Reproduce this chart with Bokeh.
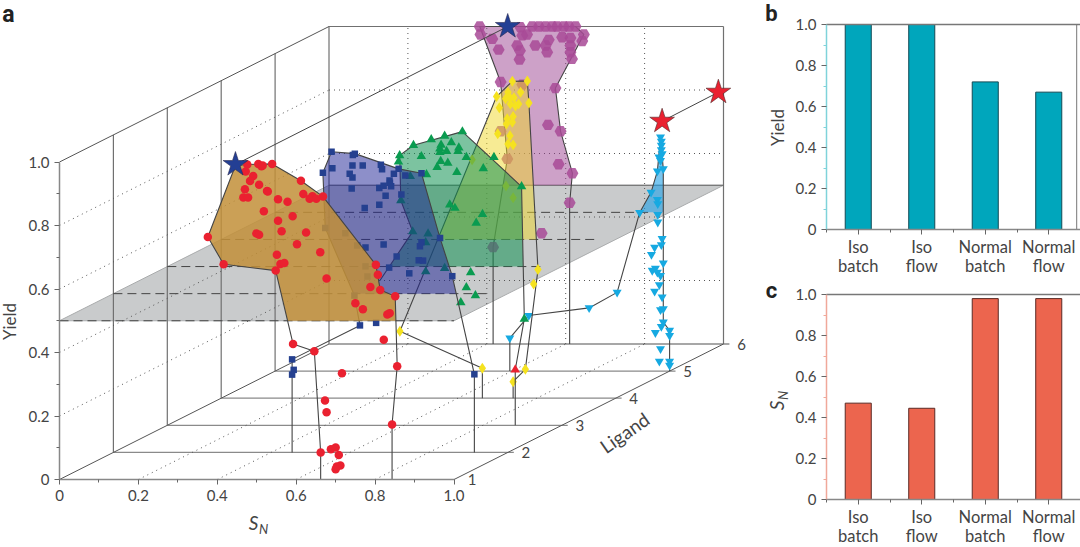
from bokeh.core.properties import value
from bokeh.embed import file_html
from bokeh.layouts import column, row
from bokeh.models import FixedTicker, Label, Range1d
from bokeh.plotting import figure
from bokeh.resources import INLINE
import math

# panel a, one pair of arrays per ligand: S_N and yield
red_sn = [.476,.504,.512,.515,.539,.472,.491,.483,.506,.470,.526,.528,.466,.478,.554,.578,.612,.618,.641,.634,.651,.668,.518,.591,.554,.499,.506,.563,.625,.376,.602,.661,.551,.416,.560,.570,.548,.677,.802,.807,.788,.813,.851,.750,.769,.831,.837,.592,.646,.822,.856,.716,.673,.677,.843,.662,.688,.700,.708,.712,.703,.700]
red_yield = [.992,.994,.987,.989,.994,.970,.956,.940,.928,.914,.909,.907,.888,.888,.883,.875,.941,.899,.892,.884,.884,.891,.845,.829,.815,.775,.771,.782,.778,.764,.741,.716,.708,.678,.679,.682,.658,.633,.676,.645,.606,.597,.577,.555,.536,.520,.524,.427,.404,.440,.357,.335,.249,.212,.173,.085,.095,.101,.077,.044,.041,.032]
red_hull_sn = [.662,.662,.646,.592,.548,.416,.376,.446,.476,.539,.612,.668,.802,.813,.851,.856,.843,.843]
red_hull_yield = [0,.085,.404,.427,.658,.678,.764,.989,.992,.994,.941,.891,.676,.597,.577,.357,.173,0]

blue_sn = [.553,.607,.612,.555,.606,.632,.531,.599,.606,.678,.681,.711,.723,.740,.781,.604,.674,.685,.700,.701,.704,.730,.690,.674,.637,.639,.685,.781,.777,.828,.718,.774,.785,.699,.750,.859,.537,.588,.618,.639,.644,.611,.625,.666,.453,.457,.453,.915]
blue_yield = [.947,.937,.941,.895,.904,.904,.881,.878,.866,.906,.892,.878,.893,.872,.879,.831,.833,.840,.856,.849,.838,.812,.808,.780,.770,.645,.655,.662,.649,.675,.617,.605,.604,.582,.564,.555,.707,.690,.652,.586,.554,.494,.400,.408,.293,.260,.245,.246]
blue_hull_sn = [.453,.453,.453,.625,.611,.537,.531,.553,.612,.723,.781,.828,.859,.915,.915]
blue_hull_yield = [0,.245,.293,.400,.494,.707,.881,.947,.941,.893,.879,.675,.555,.246,0]

green_sn = [.748,.703,.669,.624,.589,.586,.644,.694,.691,.691,.720,.708,.739,.737,.693,.684,.711,.734,.758,.828,.801,.657,.616,.898,.592,.716,.729,.799,.783,.622,.661,.655,.703,.655,.769,.758,.781,.744,.905]
green_yield = [.925,.911,.900,.882,.850,.830,.847,.883,.871,.860,.891,.863,.874,.863,.832,.813,.826,.797,.844,.844,.809,.790,.784,.752,.708,.695,.684,.665,.637,.610,.603,.576,.495,.484,.481,.434,.409,.387,.335]
green_hull_sn = [.539,.622,.592,.589,.624,.748,.898,.905,.882,.882]
green_hull_yield = [.456,.610,.708,.850,.882,.925,.752,.335,.175,0]
odd_triangle_sn = [.882]
odd_triangle_yield = [.175]

yellow_sn = [.738,.776,.698,.705,.727,.759,.732,.742,.721,.754,.733,.746,.780,.740,.725,.738,.723,.701,.732,.727,.740,.636,.722,.740,.803,.792,.453,.662,.771,.740]
yellow_yield = [.998,.999,.950,.915,.964,.964,.946,.946,.943,.927,.927,.920,.930,.887,.880,.869,.864,.833,.827,.801,.798,.751,.668,.631,.405,.360,.211,.094,.091,.052]
yellow_hull_sn = [.662,.662,.453,.698,.738,.776,.780,.803,.771,.740,.740]
yellow_hull_yield = [0,.094,.211,.950,.998,.999,.930,.405,.091,.052,0]

cyan_sn = [.977,.979,.979,.979,.981,.973,.977,.969,.984,.953,.969,.970,.924,.970,.970,.981,.962,.979,.954,.984,.964,.956,.969,.977,.974,.962,.981,.977,.984,.984,.979,1.0,.964,1.0,.977,.974,1.0,1.0,.867,.796,.643,.595]
cyan_yield = [.737,.724,.711,.697,.684,.674,.663,.630,.637,.563,.540,.527,.499,.493,.469,.417,.390,.398,.367,.340,.324,.317,.311,.301,.272,.251,.233,.193,.196,.154,.140,.128,.121,.112,.070,.031,.031,.018,.248,.199,.175,.104]
cyan_hull_sn = [.595,.595,.643,.796,.867,.924,.953,.969,.977,.984,.984,1.0,1.0]
cyan_hull_yield = [0,.104,.175,.199,.248,.499,.563,.630,.737,.637,.154,.128,0]

magenta_sn = [.382,.384,.414,.430,.477,.484,.483,.490,.502,.485,.515,.532,.549,.566,.578,.595,.608,.625,.646,.642,.591,.612,.612,.612,.616,.557,.523,.553,.549,.435,.490,.574,.555,.587,.435,.452,.582,.617,.610,.539,.416]
magenta_yield = [1.0,.975,.961,.927,.940,.924,.896,.972,.975,.998,1.0,1.0,1.0,1.0,1.0,1.0,1.0,1.0,.975,.954,.966,.964,.940,.919,.898,.958,.940,.919,.940,.825,.817,.806,.690,.670,.670,.583,.566,.538,.445,.349,.305]
magenta_hull_sn = [.416,.416,.452,.435,.382,.625,.646,.574,.587,.617,.610,.610]
magenta_hull_yield = [0,.305,.583,.825,1.0,1.0,.975,.806,.670,.538,.445,0]

blue_star_sn = [.446,.453]
blue_star_yield = [.992,1.0]
blue_star_ligand = [1,6]
red_star_sn = [.981,.987]
red_star_yield = [.787,.793]
red_star_ligand = [5,6]

axis_ticks = [0,.2,.4,.6,.8,1.0]
axis_minor = [.1,.3,.5,.7,.9]
axis_tick_labels = ["0","0.2","0.4","0.6","0.8","1.0"]
ligands = [1,2,3,4,5,6]
plane_yield = .5

# panels b and c
routes = ["Iso\nbatch","Iso\nflow","Normal\nbatch","Normal\nflow"]
route_yield = [1.0,1.0,.72,.67]
route_sn = [.47,.445,.98,.98]

TEXT = "#444444"
FONT = "Lato"
# oblique projection, one ligand step moves the point this far on the axes
SN_STEP = 53.9/394.5
Y_STEP = 27.1/317.5

def px(sn, lig):
    return [s+SN_STEP*(l-1) for s,l in zip(sn,lig)]

def py(y, lig):
    return [v+Y_STEP*(l-1) for v,l in zip(y,lig)]

def clip_hull(sn, y):
    # only the part above the plane is filled
    out_x = []
    out_y = []
    for i in range(len(sn)):
        if y[i] >= plane_yield:
            out_x.append(sn[i])
            out_y.append(y[i])
        if i+1 < len(sn) and (y[i]-plane_yield)*(y[i+1]-plane_yield) < 0:
            t = (plane_yield-y[i])/(y[i+1]-y[i])
            out_x.append(sn[i]+t*(sn[i+1]-sn[i]))
            out_y.append(plane_yield)
    return out_x, out_y

def canvas_text(p, x, y, text, size, **kw):
    kw.setdefault("text_color", TEXT)
    kw.setdefault("text_font", FONT)
    p.add_layout(Label(x=x, y=y, x_units="canvas", y_units="canvas", text=text, text_font_size=size, text_align="center", text_baseline="middle", **kw))

def style_axes(p, ticks_x, minor_x, labels_x, bounds_x):
    # the frame fills the canvas and the axes are fixed at 0, so no text gets clipped
    p.xgrid.visible = False
    p.ygrid.visible = False
    p.outline_line_color = None
    x_axis = p.xaxis[0]
    y_axis = p.yaxis[0]
    x_axis.ticker = FixedTicker(ticks=ticks_x, minor_ticks=minor_x)
    x_axis.major_label_overrides = dict(zip(ticks_x, labels_x))
    x_axis.bounds = bounds_x
    y_axis.ticker = FixedTicker(ticks=axis_ticks, minor_ticks=axis_minor)
    y_axis.major_label_overrides = dict(zip(axis_ticks, axis_tick_labels))
    y_axis.bounds = (0, 1)
    for ax in [x_axis, y_axis]:
        ax.fixed_location = 0
        ax.axis_line_color = "#888888"
        ax.axis_line_width = 1.5
        ax.major_tick_line_color = "#666666"
        ax.minor_tick_line_color = "#666666"
        ax.major_tick_in = 0
        ax.major_tick_out = 5
        ax.minor_tick_in = 0
        ax.minor_tick_out = 3
        ax.major_label_text_color = TEXT
        ax.major_label_text_font = FONT
        ax.major_label_text_font_size = "15px"
        ax.major_label_standoff = 5
    return x_axis, y_axis

# ---- panel a ----
p = figure(width=760, height=547, min_border=0, x_range=Range1d(-59/394.5, 701/394.5), y_range=Range1d(-68/317.5, 479/317.5),
           output_backend="svg", toolbar_location=None)
style_axes(p, axis_ticks, axis_minor, axis_tick_labels, (0, 1))

# gray plane
p.patch(px([0,1,1,0],[1,1,6,6]), py([plane_yield]*4,[1,1,6,6]), fill_color="#c9cbcc", line_color="#a9abac", line_width=1)

# walls and floor
for l in ligands[1:]:
    p.line(px([0,0],[l,l]), py([0,1],[l,l]), line_color="#707070", line_width=1.2)
for l in ligands[1:]:
    p.line(px([0,1.015],[l,l]), py([0,0],[l,l]), line_color="#8a8a8a", line_width=1.3)
p.line(px([0,1],[6,6]), py([1,1],[6,6]), line_color="#707070", line_width=1.2)
p.line(px([1,1],[6,6]), py([0,1],[6,6]), line_color="#707070", line_width=1.2)
for s,v in [(0,0),(0,1),(1,0)]:
    p.line(px([s,s],[1,6]), py([v,v],[1,6]), line_color="#555555", line_width=1)
for t in axis_ticks[1:-1]:
    p.line(px([0,0],[1,6]), py([t,t],[1,6]), line_color="#555555", line_width=1, line_dash=[1,4])
    p.line(px([t,t],[1,6]), py([0,0],[1,6]), line_color="#555555", line_width=1, line_dash=[1,4])
    p.line(px([0,1],[6,6]), py([t,t],[6,6]), line_color="#555555", line_width=1, line_dash=[1,4])
    p.line(px([t,t],[6,6]), py([0,1],[6,6]), line_color="#555555", line_width=1, line_dash=[1,4])
# plane rulings
for l in ligands[:-1]:
    end = 1 if l == 1 else .95
    p.line(px([0,end],[l,l]), py([plane_yield]*2,[l,l]), line_color="#444444", line_width=1, line_dash=[9,5])
p.line(px([0,1],[6,6]), py([plane_yield]*2,[6,6]), line_color="#666666", line_width=1.2)

# back to front
series = [
    (6, magenta_sn, magenta_yield, magenta_hull_sn, magenta_hull_yield, "#9b4391", .5, "hex", 12, "#a84a96", .85),
    (5, cyan_sn, cyan_yield, cyan_hull_sn, cyan_hull_yield, "#1fa0e6", .6, "inverted_triangle", 9, "#16a9e1", 1),
    (4, yellow_sn, yellow_yield, yellow_hull_sn, yellow_hull_yield, "#f0d82a", .5, "diamond", 11, "#f5e21f", 1),
    (3, green_sn, green_yield, green_hull_sn, green_hull_yield, "#109152", .55, "triangle", 9.5, "#0a9b50", 1),
    (2, blue_sn, blue_yield, blue_hull_sn, blue_hull_yield, "#1b1f93", .5, "square", 6.5, "#25408f", 1),
    (1, red_sn, red_yield, red_hull_sn, red_hull_yield, "#c28f38", .85, "circle", 8.5, "#ea2130", 1),
]
for lig, sn, y, hull_sn, hull_y, fill, fill_alpha, marker, size, color, alpha in series:
    fx, fy = clip_hull(hull_sn, hull_y)
    p.patch(px(fx,[lig]*len(fx)), py(fy,[lig]*len(fy)), fill_color=fill, fill_alpha=fill_alpha, line_color=None)
    p.line(px(hull_sn,[lig]*len(hull_sn)), py(hull_y,[lig]*len(hull_y)), line_color="#444444", line_width=1.1)
    p.scatter(px(sn,[lig]*len(sn)), py(y,[lig]*len(y)), marker=marker, size=size, fill_color=color, fill_alpha=alpha, line_color=None)
    if lig == 3:
        p.scatter(px(odd_triangle_sn,[3]), py(odd_triangle_yield,[3]), marker="triangle", size=9.5, fill_color="#ea2130", line_color=None)

# stars
p.line(px(blue_star_sn,blue_star_ligand), py(blue_star_yield,blue_star_ligand), line_color="#444444", line_width=1)
p.scatter(px(blue_star_sn,blue_star_ligand), py(blue_star_yield,blue_star_ligand), marker="star", size=26, fill_color="#233f94", line_color="#2a2a50", line_width=.6)
p.line(px(red_star_sn,red_star_ligand), py(red_star_yield,red_star_ligand), line_color="#444444", line_width=1)
p.scatter(px(red_star_sn,red_star_ligand), py(red_star_yield,red_star_ligand), marker="star", size=26, fill_color="#ea2130", line_color="#502a2a", line_width=.6)

# ligand numbers
p.text(px([1]*6,ligands), py([0]*6,ligands), text=[str(l) for l in ligands], x_offset=18, text_color=TEXT,
       text_font=value(FONT), text_font_size="15px", text_align="center", text_baseline="middle")
canvas_text(p, 624, 432, "Ligand", "19px", angle=math.radians(35))
canvas_text(p, 9, 321, "Yield", "17px", angle=math.pi/2)
canvas_text(p, 253, 522, "S", "19px", text_font_style="italic")
canvas_text(p, 263, 528, "N", "13px", text_font_style="italic")
canvas_text(p, 8, 14, "a", "23px", text_font="Roboto", text_font_style="bold", text_color="#222222")

# ---- panels b and c ----
def bars(values, fill, edge, axis_color, height, top, bottom, letter, letter_y):
    b = figure(width=320, height=height, min_border=0, x_range=Range1d(-66/63.5, 4), y_range=Range1d(-bottom/205, 1+top/205),
               output_backend="svg", toolbar_location=None)
    centers = [i+.5 for i in range(len(routes))]
    x_axis, y_axis = style_axes(b, centers, [0,1,2,3,4], routes, (0, 4))
    x_axis.major_label_text_font_size = "16.5px"
    x_axis.major_label_text_line_height = .95
    x_axis.major_label_standoff = 2
    y_axis.axis_line_color = axis_color
    y_axis.minor_tick_line_color = axis_color
    b.vbar(x=centers, top=values, width=.41, fill_color=fill, line_color=edge, line_width=1)
    b.line([0,4], [1,1], line_color="#777777", line_width=1.5)
    canvas_text(b, 11, letter_y, letter, "22px", text_font="Roboto", text_font_style="bold", text_color="#222222")
    return b

p_b = bars(route_yield, "#00a6bc", "#124a55", "#7fd3da", 277, 24, 48, "b", 13)
p_b.line([3.94,3.94], [0,1], line_color="#777777", line_width=1)
canvas_text(p_b, 17, 127, "Yield", "17px", angle=math.pi/2)
p_c = bars(route_sn, "#ec654e", "#5a2a25", "#f0a89a", 270, 17, 48, "c", 13)
canvas_text(p_c, 16, 128, "S", "19px", angle=math.pi/2, text_font_style="italic")
canvas_text(p_c, 22, 118, "N", "13px", angle=math.pi/2, text_font_style="italic")

page = row(p, column(p_b, p_c, spacing=0), spacing=0)
open("out.html", "w").write(file_html(page, INLINE))
